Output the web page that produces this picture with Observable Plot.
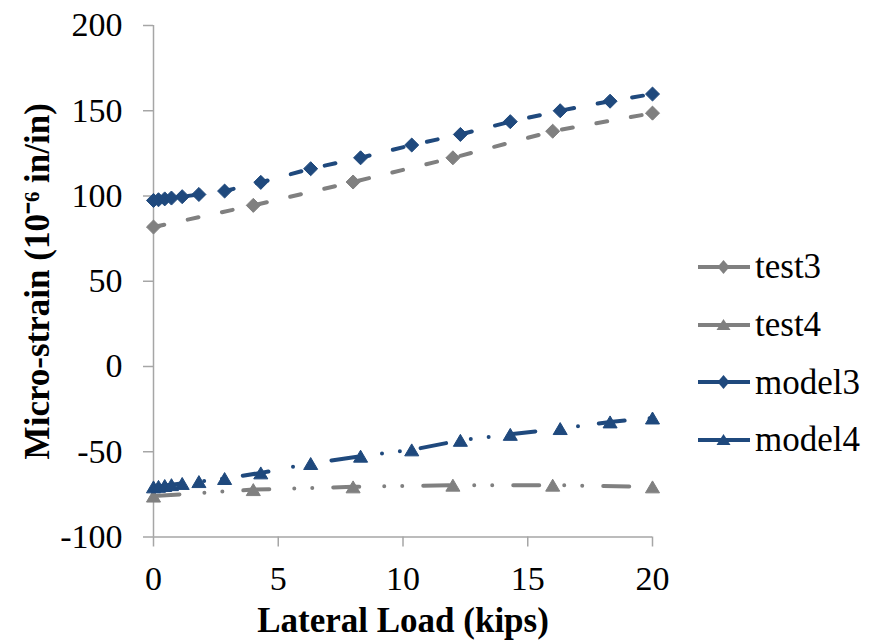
<!DOCTYPE html>
<html>
<head>
<meta charset="utf-8">
<script src="https://cdn.jsdelivr.net/npm/d3@7"></script>
<script src="https://cdn.jsdelivr.net/npm/@observablehq/plot@0.6"></script>
<style>
  body { margin: 0; background: #fff; }
  #wrap { position: relative; width: 876px; height: 644px; font-family: "Liberation Serif", "Times New Roman", serif; }
  #legend { position: absolute; left: 697px; top: 238px; }
  .row { display: flex; align-items: center; height: 57.7px; }
  .row span { font-size: 35px; color: #000; margin-left: 4px; line-height: 1; }
</style>
</head>
<body>
<div id="wrap"></div>
<script>
// ---- data ----
const loadTest = [0, 4, 8, 12, 16, 20];
const test3 = [81.8, 94.5, 108.2, 122.4, 138, 148.6];
const test4 = [-76, -72.2, -70.6, -69.6, -69.6, -70.6];
const loadModel = [0, 0.2, 0.45, 0.72, 1.15, 1.82, 2.85, 4.3, 6.3, 8.3, 10.35, 12.3, 14.3, 16.3, 18.3, 20];
const model3 = [97.4, 97.8, 98.3, 98.8, 99.6, 100.9, 102.9, 108, 116, 122.4, 129.9, 136.1, 143.6, 150, 155.6, 159.8];
const model4 = [-70.6, -70.3, -69.8, -69.3, -68.6, -67.5, -65.7, -62.4, -56.9, -52.6, -48.9, -43.3, -39.8, -36.4, -32.5, -30.2];
const xTicks = [0, 5, 10, 15, 20];
const yTicks = [-100, -50, 0, 50, 100, 150, 200];
const seriesNames = ["test3", "test4", "model3", "model4"];

const gray = "#808080";
const blue = "#1f497d";
const axisGray = "#a6a6a6";
const serif = "'Liberation Serif', 'Times New Roman', serif";

// custom symbols centred on their bounding box
const diamondSym = {draw(ctx, size) { const h = Math.sqrt(size / Math.PI) * 1.3; ctx.moveTo(0, -h); ctx.lineTo(h, 0); ctx.lineTo(0, h); ctx.lineTo(-h, 0); ctx.closePath(); }};
const triangleSym = {draw(ctx, size) { const r = Math.sqrt(size / Math.PI); const h = r * 1.15, w = r * 1.35; ctx.moveTo(0, -h); ctx.lineTo(w, h); ctx.lineTo(-w, h); ctx.closePath(); }};

const rows = (xs, ys) => xs.map((x, i) => ({x, y: ys[i]}));
const dT3 = rows(loadTest, test3);
const dT4 = rows(loadTest, test4);
const dM3 = rows(loadModel, model3);
const dM4 = rows(loadModel, model4);

const dash = "11,24";
const dashDotDot = "26,25,0,18,0,21";

const chart = Plot.plot({
  width: 876,
  height: 644,
  marginLeft: 153,
  marginRight: 224,
  marginTop: 25,
  marginBottom: 107.5,
  style: {fontFamily: serif, fontSize: "34px", color: "#000", background: "transparent", overflow: "visible"},
  x: {domain: [0, 20]},
  y: {domain: [-100, 200]},
  marks: [
    Plot.axisX({ticks: xTicks, tickSize: 10, tickPadding: 19, stroke: axisGray, strokeWidth: 1.5, fill: "#000", fontSize: 34, label: null, tickFormat: d => String(d)}),
    Plot.axisY({ticks: yTicks, tickSize: 10, tickPadding: 21, stroke: axisGray, strokeWidth: 1.5, fill: "#000", fontSize: 34, label: null, tickFormat: d => String(d)}),
    Plot.ruleX([0], {stroke: axisGray, strokeWidth: 1.5}),
    Plot.ruleY([-100], {stroke: axisGray, strokeWidth: 1.5}),
    Plot.line(dT3, {x: "x", y: "y", stroke: gray, strokeWidth: 4, strokeDasharray: dash, strokeLinecap: "round"}),
    Plot.line(dM3, {x: "x", y: "y", stroke: blue, strokeWidth: 4, strokeDasharray: dash, strokeLinecap: "round"}),
    Plot.line(dT4, {x: "x", y: "y", stroke: gray, strokeWidth: 4, strokeDasharray: dashDotDot, strokeLinecap: "round"}),
    Plot.line(dM4, {x: "x", y: "y", stroke: blue, strokeWidth: 4, strokeDasharray: dashDotDot, strokeLinecap: "round"}),
    Plot.dot(dT3, {x: "x", y: "y", symbol: diamondSym, r: 5.4, fill: gray, stroke: gray, strokeWidth: 1}),
    Plot.dot(dT4, {x: "x", y: "y", symbol: triangleSym, r: 5.2, fill: gray, stroke: gray, strokeWidth: 1}),
    Plot.dot(dM3, {x: "x", y: "y", symbol: diamondSym, r: 5.4, fill: blue, stroke: blue, strokeWidth: 1}),
    Plot.dot(dM4, {x: "x", y: "y", symbol: triangleSym, r: 5.2, fill: blue, stroke: blue, strokeWidth: 1}),
    Plot.text(["Lateral Load (kips)"], {text: d => d, frameAnchor: "bottom", lineAnchor: "middle", textAnchor: "middle", dy: 84, fontSize: 35, fontWeight: "bold", fill: "#000"}),
    Plot.text(["Micro-strain (10\u207B\u2076 in/in)"], {text: d => d, frameAnchor: "left", lineAnchor: "middle", textAnchor: "middle", rotate: -90, dx: -116, fontSize: 35, fontWeight: "bold", fill: "#000"})
  ]
});

const wrap = document.getElementById("wrap");
wrap.appendChild(chart);

// legend
const legendColors = [gray, gray, blue, blue];
const legendSymbols = ["diamond", "triangle", "diamond", "triangle"];
const legend = document.createElement("div");
legend.id = "legend";
seriesNames.forEach((name, i) => {
  const row = document.createElement("div");
  row.className = "row";
  const c = legendColors[i];
  const marker = legendSymbols[i] === "diamond"
    ? `<path d="M26.5,3 L32.5,10 L26.5,17 L20.5,10 Z" fill="${c}"/>`
    : `<path d="M26.5,4 L33.5,15 L19.5,15 Z" fill="${c}"/>`;
  row.innerHTML = `<svg width="54" height="20" viewBox="0 0 54 20"><line x1="1" y1="10" x2="53" y2="10" stroke="${c}" stroke-width="4"/>${marker}</svg><span>${name}</span>`;
  legend.appendChild(row);
});
wrap.appendChild(legend);
</script>
</body>
</html>
